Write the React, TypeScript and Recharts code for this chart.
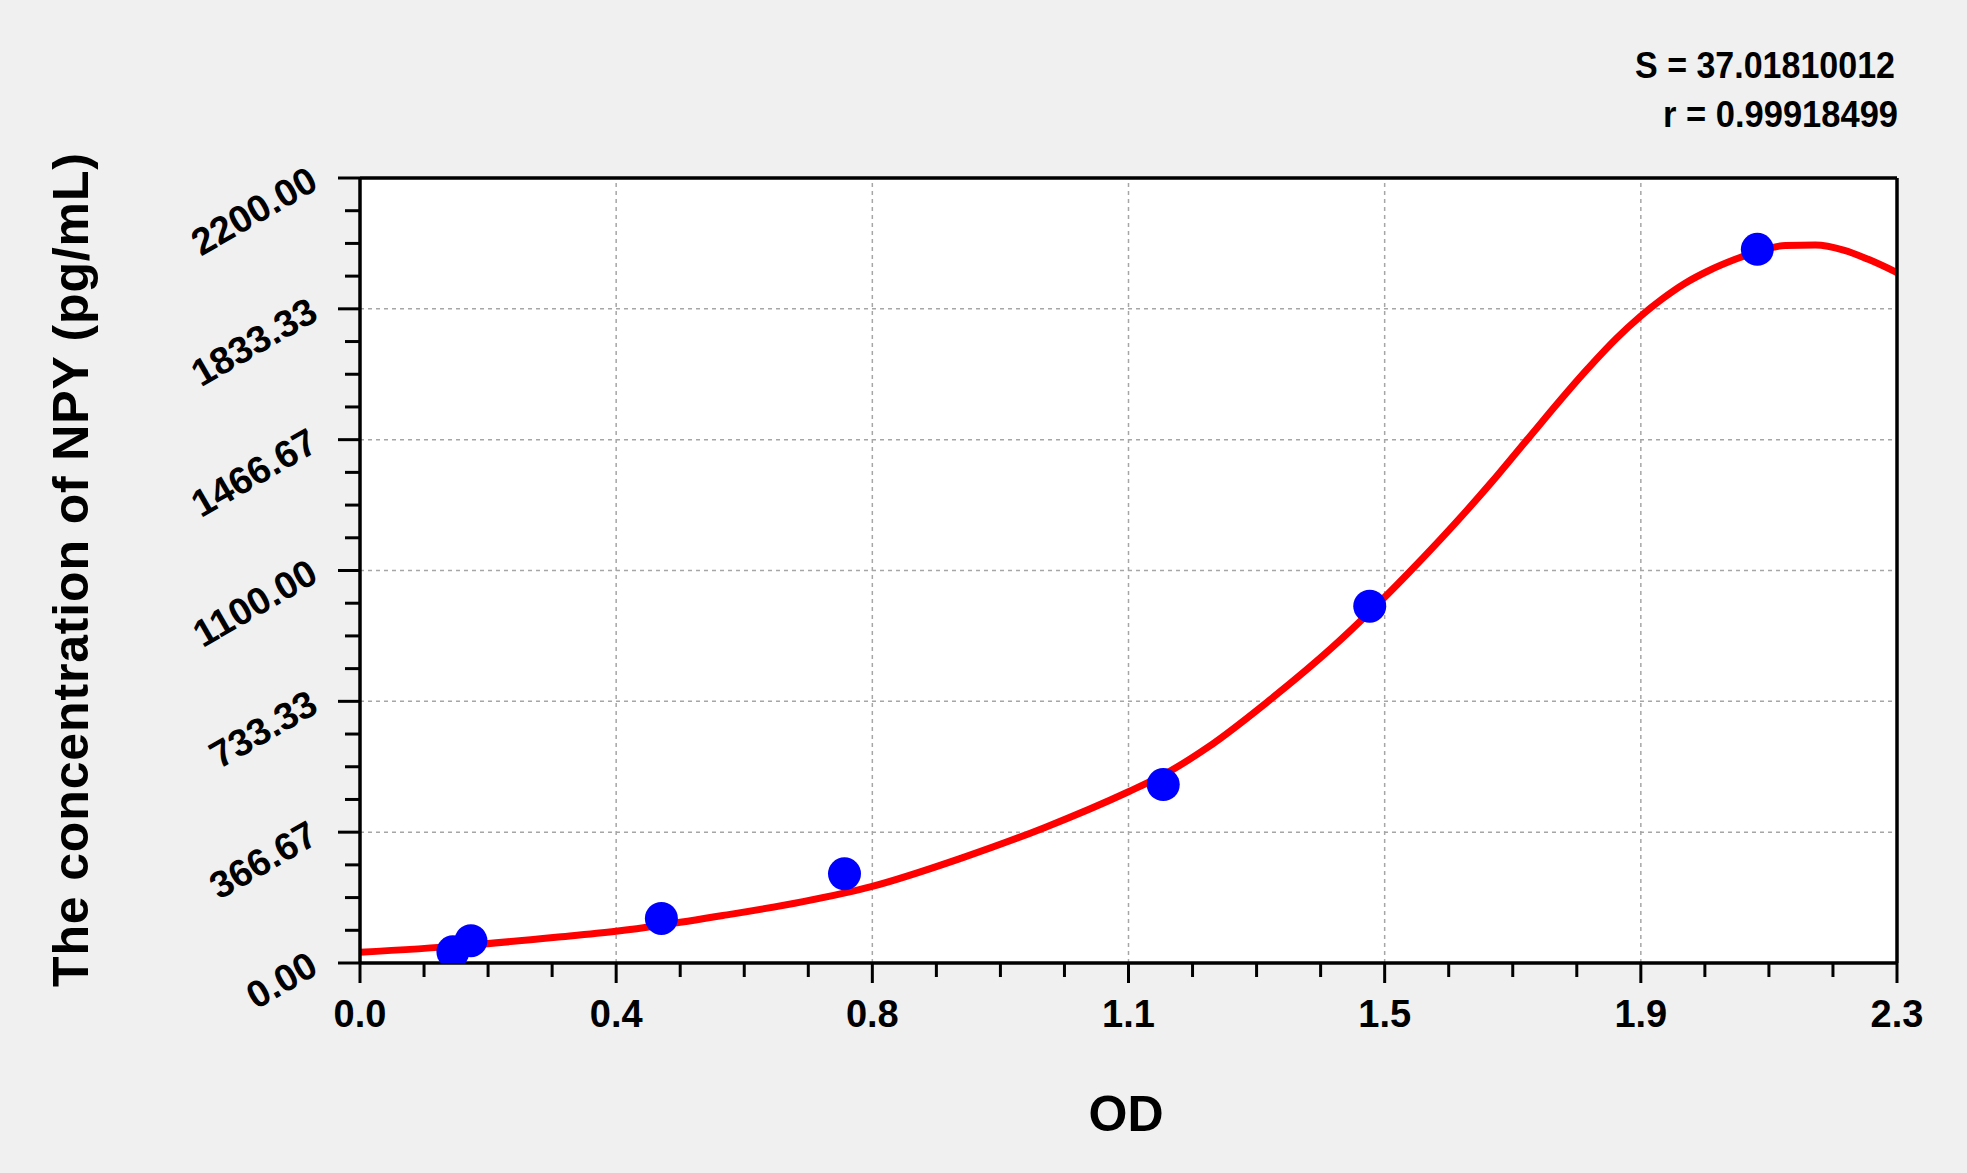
import { CartesianGrid, ComposedChart, Line, ReferenceLine, Scatter, XAxis, YAxis } from 'recharts'

// standard points (OD vs. concentration)
const standardOd = [0.139, 0.166, 0.451, 0.725, 1.202, 1.511, 2.091]
const standardConc = [31.25, 62.5, 125, 250, 500, 1000, 2000]

// fitted curve
const curveOd = [0, 0.15, 0.293, 0.383, 0.451, 0.543, 0.663, 0.765, 0.9, 1.025, 1.15, 1.2, 1.269, 1.36, 1.454, 1.569, 1.694, 1.744, 1.838, 1.88, 1.916, 1.948, 1.983, 2.018, 2.058, 2.093, 2.133, 2.178, 2.22, 2.257, 2.3]
const curveConc = [30, 48, 72, 89, 106, 133, 172, 214, 294, 380, 480, 525, 605, 735, 883, 1093, 1349, 1461, 1667, 1750, 1812, 1860, 1905, 1940, 1972, 1995, 2011, 2012, 1998, 1972, 1935]

const xMajorTicks = [0, 0.38333, 0.76667, 1.15, 1.53333, 1.91667, 2.3]
const xMajorLabels = ['0.0', '0.4', '0.8', '1.1', '1.5', '1.9', '2.3']
const yMajorTicks = [0, 366.667, 733.333, 1100, 1466.667, 1833.333, 2200]
const yMajorLabels = ['0.00', '366.67', '733.33', '1100.00', '1466.67', '1833.33', '2200.00']

const FONT = '"Liberation Sans", Arial, sans-serif'
const MINOR_PER_MAJOR = 4

function withMinor(majors: number[]): number[] {
  const out: number[] = []
  majors.forEach((v, i) => {
    out.push(v)
    if (i < majors.length - 1) {
      const step = (majors[i + 1] - v) / MINOR_PER_MAJOR
      for (let k = 1; k < MINOR_PER_MAJOR; k++) out.push(v + k * step)
    }
  })
  return out
}

const xAllTicks = withMinor(xMajorTicks)
const yAllTicks = withMinor(yMajorTicks)

const standardData = standardOd.map((x, i) => ({ x, y: standardConc[i] }))
const curveData = curveOd.map((x, i) => ({ x, y: curveConc[i] }))

function XTick(props: any) {
  const { x, y, index } = props
  const major = index % MINOR_PER_MAJOR === 0
  return (
    <g>
      <line x1={x} x2={x} y1={y} y2={y + (major ? 20 : 14)} stroke="#000" strokeWidth={3} />
      {major ? (
        <text x={x} y={y + 64} textAnchor="middle" fontFamily={FONT} fontWeight="bold" fontSize={38} fill="#000">
          {xMajorLabels[index / MINOR_PER_MAJOR]}
        </text>
      ) : null}
    </g>
  )
}

function YTick(props: any) {
  const { x, y, index } = props
  const major = index % MINOR_PER_MAJOR === 0
  const lx = x - 40
  const ly = y + 10
  return (
    <g>
      <line x1={x - (major ? 22 : 15)} x2={x} y1={y} y2={y} stroke="#000" strokeWidth={3} />
      {major ? (
        <text
          x={lx}
          y={ly}
          textAnchor="end"
          transform={`rotate(-30, ${lx}, ${ly})`}
          fontFamily={FONT}
          fontWeight="bold"
          fontSize={38}
          fill="#000"
        >
          {yMajorLabels[index / MINOR_PER_MAJOR]}
        </text>
      ) : null}
    </g>
  )
}

function Dot(props: any) {
  return <circle cx={props.cx} cy={props.cy} r={16.5} fill="#0000ff" />
}

export default function App() {
  return (
    <div style={{ position: 'absolute', left: 0, top: 0, width: 1967, height: 1173, background: '#f0f0f0' }}>
      <ComposedChart width={1967} height={1173} margin={{ top: 168, right: 60, bottom: 110, left: 260 }}>
        <CartesianGrid horizontal={false} vertical={false} fill="#ffffff" />
        {xMajorTicks.slice(1, -1).map((v) => (
          <ReferenceLine key={`gx${v}`} x={v} stroke="#a6a6a6" strokeWidth={1.5} strokeDasharray="4 4" />
        ))}
        {yMajorTicks.slice(1, -1).map((v) => (
          <ReferenceLine key={`gy${v}`} y={v} stroke="#a6a6a6" strokeWidth={1.5} strokeDasharray="4 4" />
        ))}
        <XAxis
          type="number"
          dataKey="x"
          domain={[0, 2.3]}
          ticks={xAllTicks}
          interval={0}
          height={100}
          tickSize={0}
          tickMargin={0}
          tickLine={false}
          tick={<XTick />}
          axisLine={{ stroke: '#000', strokeWidth: 3.5 }}
          allowDataOverflow
        />
        <XAxis
          xAxisId="top"
          orientation="top"
          type="number"
          domain={[0, 2.3]}
          height={10}
          tick={false}
          tickLine={false}
          axisLine={{ stroke: '#000', strokeWidth: 3.5 }}
        />
        <YAxis
          type="number"
          domain={[0, 2200]}
          ticks={yAllTicks}
          interval={0}
          width={100}
          tickSize={0}
          tickMargin={0}
          tickLine={false}
          tick={<YTick />}
          axisLine={{ stroke: '#000', strokeWidth: 3.5 }}
          allowDataOverflow
        />
        <YAxis
          yAxisId="right"
          orientation="right"
          type="number"
          domain={[0, 2200]}
          width={10}
          tick={false}
          tickLine={false}
          axisLine={{ stroke: '#000', strokeWidth: 3.5 }}
        />
        <Scatter data={standardData} dataKey="y" shape={<Dot />} isAnimationActive={false} />
        <Line
          data={curveData}
          dataKey="y"
          type="monotone"
          stroke="#ff0000"
          strokeWidth={7}
          dot={false}
          activeDot={false}
          isAnimationActive={false}
        />
      </ComposedChart>
      <svg
        width={1967}
        height={1173}
        style={{ position: 'absolute', left: 0, top: 0, pointerEvents: 'none' }}
      >
        <g fontFamily={FONT} fontWeight="bold" fill="#000">
          <text x={1895} y={78} textAnchor="end" fontSize={36} textLength={260} lengthAdjust="spacingAndGlyphs">
            S = 37.01810012
          </text>
          <text x={1898} y={127} textAnchor="end" fontSize={36} textLength={235} lengthAdjust="spacingAndGlyphs">
            r = 0.99918499
          </text>
          <text x={1126} y={1131} textAnchor="middle" fontSize={50}>
            OD
          </text>
          <text
            x={88}
            y={570}
            textAnchor="middle"
            transform="rotate(-90, 88, 570)"
            fontSize={50}
            textLength={834}
            lengthAdjust="spacing"
          >
            The concentration of NPY (pg/mL)
          </text>
        </g>
      </svg>
    </div>
  )
}
